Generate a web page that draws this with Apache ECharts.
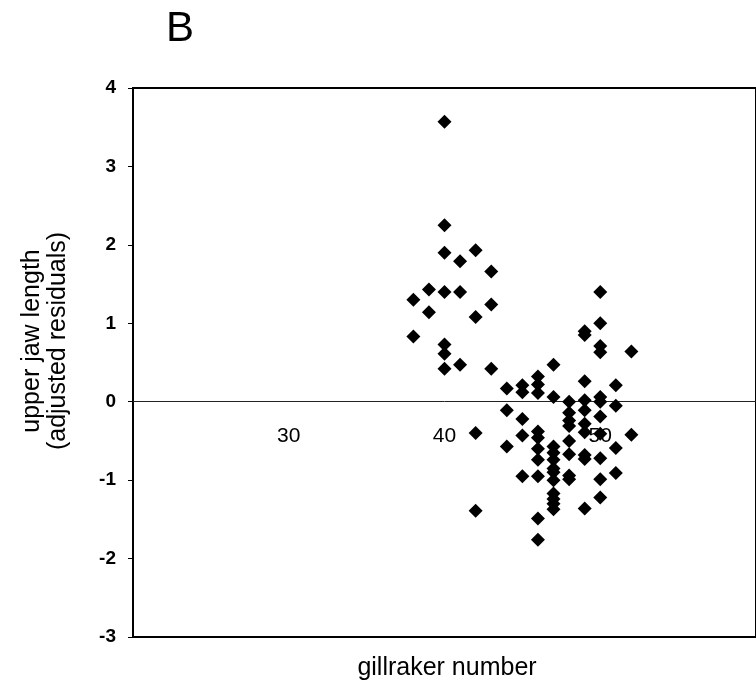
<!DOCTYPE html>
<html>
<head>
<meta charset="utf-8">
<script src="https://cdn.jsdelivr.net/npm/echarts@6/dist/echarts.min.js"></script>
<style>html,body{margin:0;padding:0;background:#fff}#c{width:756px;height:685px}</style>
</head>
<body>
<div id="c"></div>
<script>
// gillraker number (x) and adjusted residuals of upper jaw length (y)
const gillrakers = [
  38, 38,
  39, 39,
  40, 40, 40, 40, 40, 40, 40,
  41, 41, 41,
  42, 42, 42, 42,
  43, 43, 43,
  44, 44, 44,
  45, 45, 45, 45, 45,
  46, 46, 46, 46, 46, 46, 46, 46, 46, 46,
  47, 47, 47, 47, 47, 47, 47, 47, 47, 47, 47, 47,
  48, 48, 48, 48, 48, 48, 48, 48,
  49, 49, 49, 49, 49, 49, 49, 49, 49, 49,
  50, 50, 50, 50, 50, 50, 50, 50, 50, 50, 50,
  51, 51, 51, 51,
  52, 52
];
const residuals = [
  1.30, 0.83,
  1.43, 1.14,
  3.57, 2.25, 1.90, 1.40, 0.73, 0.61, 0.42,
  1.79, 1.40, 0.47,
  1.93, 1.08, -0.40, -1.39,
  1.66, 1.24, 0.42,
  0.17, -0.11, -0.57,
  0.21, 0.12, -0.22, -0.43, -0.95,
  0.32, 0.22, 0.11, -0.38, -0.46, -0.60, -0.74, -0.95, -1.49, -1.76,
  0.47, 0.06, -0.57, -0.65, -0.74, -0.85, -0.90, -1.00, -1.17, -1.24, -1.30, -1.37,
  0.00, -0.14, -0.24, -0.31, -0.50, -0.67, -0.94, -0.99,
  0.90, 0.85, 0.26, 0.02, -0.11, -0.28, -0.39, -0.68, -0.73, -1.36,
  1.40, 1.00, 0.71, 0.63, 0.06, 0.00, -0.19, -0.41, -0.72, -0.99, -1.22,
  0.21, -0.05, -0.59, -0.91,
  0.64, -0.42
];
const xTicks = [20, 30, 40, 50, 60];
const yTicks = [-3, -2, -1, 0, 1, 2, 3, 4];
const panelLabel = "B";
const xTitle = "gillraker number";
const yTitle = "upper jaw length\n(adjusted residuals)";

const points = gillrakers.map((g, i) => [g, residuals[i]]);

const GRID_TOP = 88, GRID_BOTTOM = 48, H = 685;
const gridH = H - GRID_TOP - GRID_BOTTOM;
const yMin = yTicks[0], yMax = yTicks[yTicks.length - 1];
// move the x axis (line + labels) up to the y = 0 level
const zeroOffset = -gridH * (0 - yMin) / (yMax - yMin);

const chart = echarts.init(document.getElementById('c'), null, {renderer: 'canvas'});
chart.setOption({
  animation: false,
  backgroundColor: '#fff',
  grid: {left: 133, top: GRID_TOP, right: -6, bottom: GRID_BOTTOM, show: true, borderColor: '#000', borderWidth: 2, backgroundColor: 'transparent'},
  xAxis: {
    type: 'value',
    position: 'bottom',
    offset: zeroOffset,
    min: xTicks[0], max: xTicks[xTicks.length - 1], interval: 10,
    axisLine: {show: true, onZero: false, lineStyle: {color: '#222', width: 1}},
    axisTick: {show: false},
    splitLine: {show: false},
    axisLabel: {
      showMinLabel: false, showMaxLabel: false, margin: 24,
      color: '#000', fontFamily: 'Arial, Liberation Sans, sans-serif', fontSize: 21
    }
  },
  yAxis: {
    type: 'value',
    min: yMin, max: yMax, interval: 1,
    axisLine: {show: true, onZero: false, lineStyle: {color: '#000', width: 2}},
    axisTick: {show: true, inside: false, length: 5, lineStyle: {color: '#000', width: 1}},
    splitLine: {show: false},
    axisLabel: {
      margin: 17, color: '#000', fontFamily: 'Arial, Liberation Sans, sans-serif',
      fontSize: 19, fontWeight: 'bold'
    }
  },
  series: [{
    type: 'scatter',
    data: points,
    symbol: 'diamond',
    symbolSize: [14, 14],
    itemStyle: {color: '#000', opacity: 1},
    z: 5
  }],
  graphic: [
    {type: 'text', left: 166, top: 8, style: {text: panelLabel, font: '42px Arial, "Liberation Sans", sans-serif', fill: '#000'}},
    {type: 'text', x: 45, y: 341, rotation: Math.PI / 2,
     style: {text: yTitle, font: '25px Arial, "Liberation Sans", sans-serif', fill: '#000', align: 'center', verticalAlign: 'middle', lineHeight: 26}},
    {type: 'text', x: 447, y: 668,
     style: {text: xTitle, font: '25px Arial, "Liberation Sans", sans-serif', fill: '#000', align: 'center', verticalAlign: 'middle'}}
  ]
});
</script>
</body>
</html>
